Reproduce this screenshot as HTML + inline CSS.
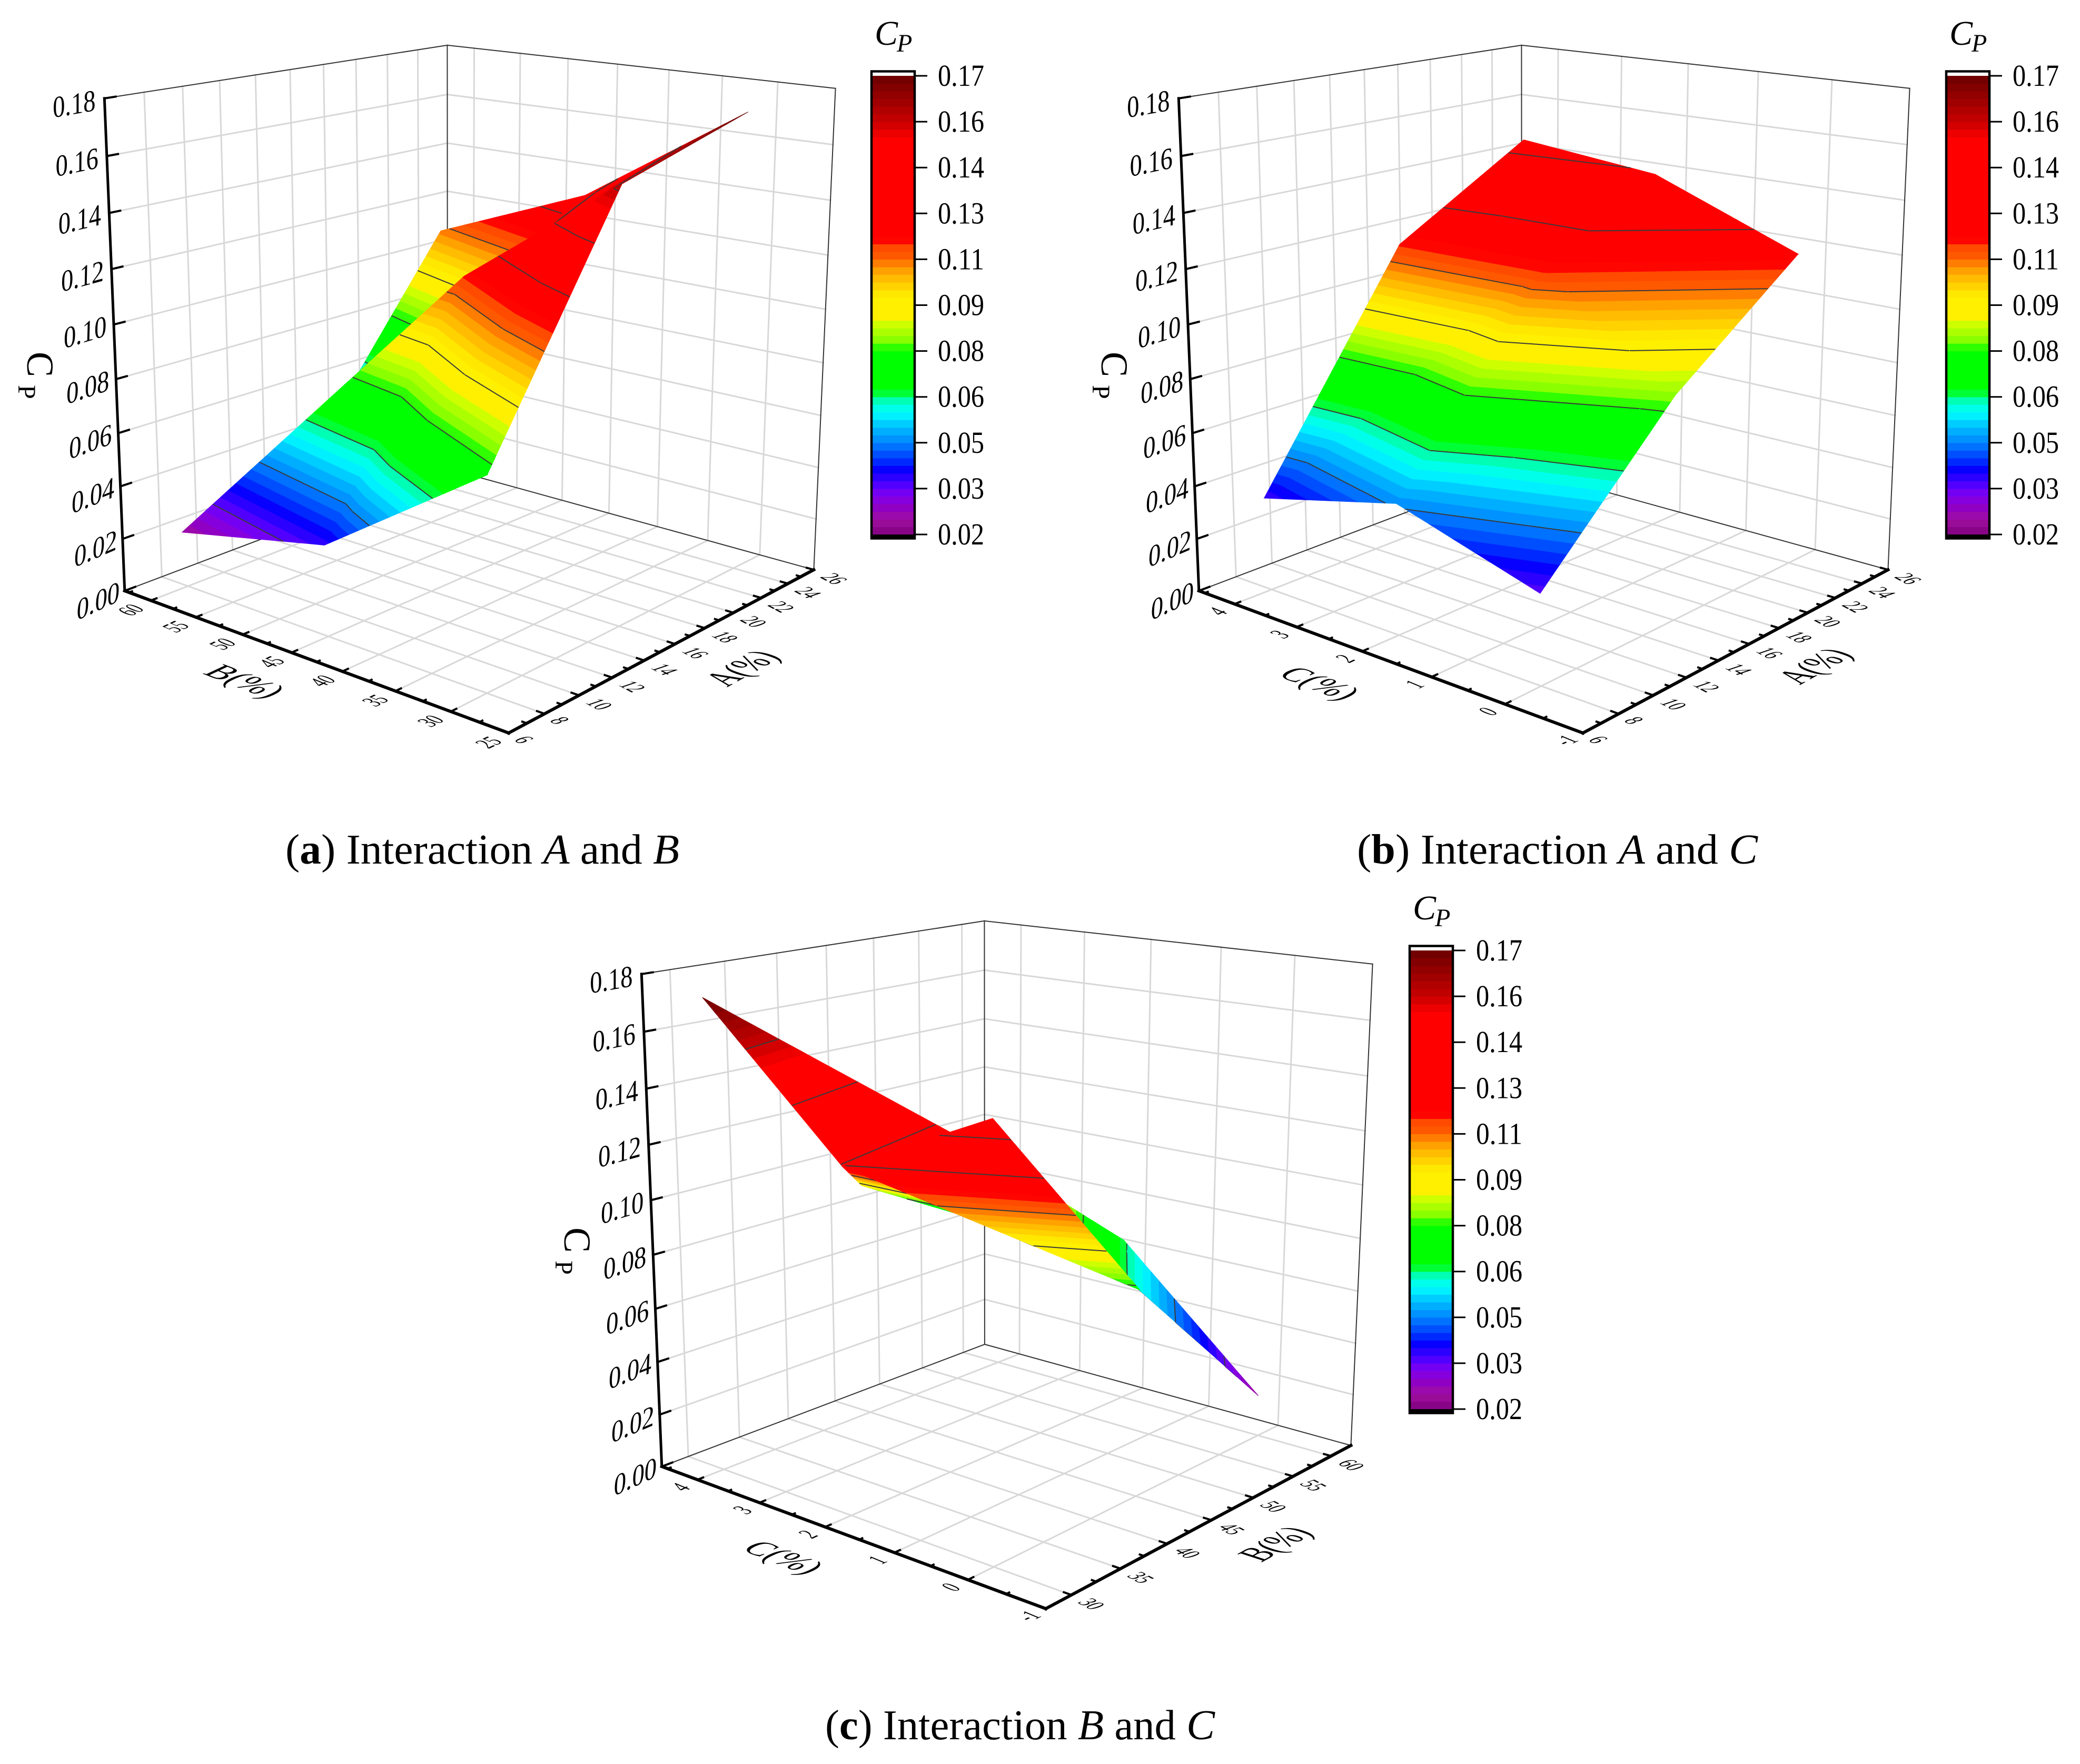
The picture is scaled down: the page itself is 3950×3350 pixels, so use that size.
<!DOCTYPE html>
<html>
<head>
<meta charset="utf-8">
<style>
html,body{margin:0;padding:0;background:#fff}
svg{display:block}
text{font-family:"Liberation Serif",serif;fill:#000}
</style>
</head>
<body>
<svg id="figure" width="3950" height="3350" viewBox="0 0 3950 3350" xmlns="http://www.w3.org/2000/svg">
  <rect x="0" y="0" width="3950" height="3350" fill="#fff"/>
  <g id="panel-a" transform="translate(0,0)"></g>
  <g id="panel-b" transform="translate(2040,0)"></g>
  <g id="panel-c" transform="translate(1020,1663)"></g>
  <g id="colorbar-a" transform="translate(0,0)"></g>
  <g id="colorbar-b" transform="translate(2041,0)"></g>
  <g id="colorbar-c" transform="translate(1022,1661)"></g>
  <text x="542" y="1640" font-size="80" textLength="748" lengthAdjust="spacingAndGlyphs">(<tspan font-weight="bold">a</tspan>) Interaction <tspan font-style="italic">A</tspan> and <tspan font-style="italic">B</tspan></text>
  <text x="2577" y="1640" font-size="80" textLength="761" lengthAdjust="spacingAndGlyphs">(<tspan font-weight="bold">b</tspan>) Interaction <tspan font-style="italic">A</tspan> and <tspan font-style="italic">C</tspan></text>
  <text x="1567" y="3303" font-size="80" textLength="740" lengthAdjust="spacingAndGlyphs">(<tspan font-weight="bold">c</tspan>) Interaction <tspan font-style="italic">B</tspan> and <tspan font-style="italic">C</tspan></text>
</svg>
<script>
// ---- chart data ----
const zTicks = [0, 0.02, 0.04, 0.06, 0.08, 0.10, 0.12, 0.14, 0.16, 0.18];
const aAxisTicks = [6, 8, 10, 12, 14, 16, 18, 20, 22, 24, 26];
const aAxisMinorTicks = [7, 9, 11, 13, 15, 17, 19, 21, 23, 25];
const bAxisTicksA = [25, 30, 35, 40, 45, 50, 55, 60];
const bAxisMinorTicksA = [27.5, 32.5, 37.5, 42.5, 47.5, 52.5, 57.5, 62.5];
const bAxisTicksC = [30, 35, 40, 45, 50, 55, 60];
const bAxisMinorTicksC = [32.5, 37.5, 42.5, 47.5, 52.5, 57.5];
const cAxisTicks = [-1, 0, 1, 2, 3, 4];
const cAxisMinorTicks = [-0.5, 0.5, 1.5, 2.5, 3.5, 4.5];
const colorbarLabels = ["0.17", "0.16", "0.14", "0.13", "0.11", "0.09", "0.08", "0.06", "0.05", "0.03", "0.02"];
const colorbarValues = [0.17, 0.155, 0.14, 0.125, 0.11, 0.095, 0.08, 0.065, 0.05, 0.035, 0.02];
const contourLevels = [0.035, 0.05, 0.065, 0.08, 0.095, 0.11, 0.125, 0.14, 0.155];

// panel (a): A, B, Cp at each mesh node
const panelAValuesA = [7.07, 6.80, 7.23, 15.62, 24.79, 24.03, 23.85, 15.53, 18.04];
const panelAValuesB = [58.49, 43.03, 28.86, 30.01, 31.08, 45.24, 60.22, 44.22, 59.52];
const panelACp = [0.025, 0.0388, 0.0773, 0.157, 0.17, 0.132, 0.1085, 0.1155, 0.062];
const panelATriangles = [[7, 3, 5], [8, 5, 6], [5, 3, 4], [0, 1, 7], [1, 3, 7], [1, 2, 3]];

// panel (b): A, C, Cp at each mesh node
const panelBValuesA = [7.27, 7.21, 23.90, 24.95, 24.33, 16.06, 7.30, 16.41, 15.36];
const panelBValuesC = [3.85, -0.17, -0.01, 4.31, 2.11, 4.09, 1.82, 1.96, -0.10];
const panelBCp = [0.038, 0.0359, 0.119, 0.1437, 0.1392, 0.1155, 0.051, 0.116, 0.0842];
const panelBTriangles = [[5, 4, 3], [7, 2, 4], [5, 7, 4], [0, 7, 5], [7, 8, 2], [6, 8, 7], [0, 6, 7], [6, 1, 8]];

// panel (c): B, C, Cp at each mesh node
const panelCValuesB = [32.0, 42.28, 30.47, 29.15, 59.17, 43.76, 55.82, 45.16, 59.18, 52.28];
const panelCValuesC = [4.45, 2.284, 0.08, 1.909, 1.91, -0.15, -0.42, 4.11, 4.04, 0.88];
const panelCCp = [0.1695, 0.122, 0.148, 0.1245, 0.066, 0.078, 0.025, 0.09, 0.0604, 0.0615];
const panelCTriangles = [[3, 7, 8], [3, 8, 5], [5, 9, 6], [1, 4, 9], [4, 6, 9], [0, 1, 3], [3, 2, 5]];

// colour scale: Cp value and colour
const colorStopValues = [0.02, 0.025, 0.0284, 0.0329, 0.0363, 0.0418, 0.0441, 0.0497, 0.0553, 0.0598, 0.062, 0.0659, 0.0665, 0.081, 0.0816, 0.0855, 0.09, 0.0911, 0.0978, 0.1034, 0.1079, 0.11, 0.1157, 0.1163, 0.1493, 0.155, 0.17];
const colorStopHex = ["#7f007f", "#a010a0", "#9000c0", "#8000f0", "#5000ff", "#0000ff", "#0030ff", "#0080ff", "#00c0ff", "#00ffff", "#00ffe0", "#00ff80", "#00ff00", "#00ff00", "#70ff00", "#a0ff00", "#e0ff00", "#fff000", "#fff000", "#ffc000", "#ff9000", "#ff6000", "#ff4000", "#ff0000", "#ff0000", "#c80000", "#6b0000"];

const Z_MAX = 0.18;
const BAND_START = 0.02;
const BAND_STEP = 0.0025;
const BAND_COUNT = 60;
const NS = "http://www.w3.org/2000/svg";

function create(tag, parent) {
  const el = document.createElementNS(NS, tag);
  parent.appendChild(el);
  return el;
}
function project(s, t, z) {
  const w = 1 + 0.1712 * s + 0.1994 * t - 0.068 * z;
  return [
    (966 - 688.7 * s + 887.6 * t - 58.5 * z) / w,
    (1392 - 77.9 * s - 94.2 * t - 1108 * z) / w
  ];
}
function hexToRgb(h) {
  return [parseInt(h.slice(1, 3), 16), parseInt(h.slice(3, 5), 16), parseInt(h.slice(5, 7), 16)];
}
function colorAt(v) {
  if (v <= colorStopValues[0]) return colorStopHex[0];
  for (let i = 1; i < colorStopValues.length; i++) {
    if (v <= colorStopValues[i]) {
      const f = (v - colorStopValues[i - 1]) / (colorStopValues[i] - colorStopValues[i - 1]);
      const a = hexToRgb(colorStopHex[i - 1]);
      const b = hexToRgb(colorStopHex[i]);
      return "rgb(" + a.map((c, k) => Math.round(c + (b[k] - c) * f)).join(",") + ")";
    }
  }
  return colorStopHex[colorStopHex.length - 1];
}
function lerpNode(a, b, f) {
  return { s: a.s + (b.s - a.s) * f, t: a.t + (b.t - a.t) * f, cp: a.cp + (b.cp - a.cp) * f };
}
function clipPoly(poly, level, keepAbove) {
  const out = [];
  for (let i = 0; i < poly.length; i++) {
    const p = poly[i];
    const q = poly[(i + 1) % poly.length];
    const dp = keepAbove ? p.cp - level : level - p.cp;
    const dq = keepAbove ? q.cp - level : level - q.cp;
    if (dp >= 0) out.push(p);
    if ((dp >= 0) !== (dq >= 0)) out.push(lerpNode(p, q, dp / (dp - dq)));
  }
  return out;
}
function nodeXY(n) {
  return project(n.s, n.t, n.cp / Z_MAX);
}
function addLine(parent, a, b, color, width) {
  const el = create("line", parent);
  el.setAttribute("x1", a[0].toFixed(1));
  el.setAttribute("y1", a[1].toFixed(1));
  el.setAttribute("x2", b[0].toFixed(1));
  el.setAttribute("y2", b[1].toFixed(1));
  el.setAttribute("stroke", color);
  el.setAttribute("stroke-width", width);
  el.setAttribute("stroke-linecap", "square");
  return el;
}

function drawPanel(cfg) {
  const root = document.getElementById(cfg.id);
  const sOf = v => (v - cfg.sMin) / (cfg.sMax - cfg.sMin);
  const tOf = v => (v - cfg.tMin) / (cfg.tMax - cfg.tMin);
  const zOf = v => v / Z_MAX;

  // grid
  const grid = create("g", root);
  
  
  const GRID = "#d8d8d8";
  cfg.sTicks.forEach(v => {
    const s = sOf(v);
    if (s < 0.001 || s > 0.999) return;
    const floorLine = addLine(grid, project(s, 0, 0), project(s, 1, 0), GRID, 3);
    
    
    const wallLine = addLine(grid, project(s, 1, 0), project(s, 1, 1), GRID, 3);
    
    
  });
  cfg.tTicks.forEach(v => {
    const t = tOf(v);
    if (t < 0.001 || t > 0.999) return;
    const floorLine = addLine(grid, project(0, t, 0), project(1, t, 0), GRID, 3);
    
    
    const wallLine = addLine(grid, project(1, t, 0), project(1, t, 1), GRID, 3);
    
    
  });
  zTicks.forEach(v => {
    const z = zOf(v);
    if (z < 0.001 || z > 0.999) return;
    const leftLine = addLine(grid, project(1, 0, z), project(1, 1, z), GRID, 3);
    
    
    const rightLine = addLine(grid, project(1, 1, z), project(0, 1, z), GRID, 3);
    
    
  });

  // thin box edges
  const edges = create("g", root);
  
  
  const edgeList = [
    [[1, 0, 1], [1, 1, 1]], [[1, 1, 1], [0, 1, 1]], [[0, 1, 1], [0, 1, 0]],
    [[1, 1, 0], [1, 1, 1]], [[1, 0, 0], [1, 1, 0]], [[1, 1, 0], [0, 1, 0]]
  ];
  edgeList.forEach(e => {
    const ln = addLine(edges, project.apply(null, e[0]), project.apply(null, e[1]), "#333", 2);
    
    
  });

  // surface
  const surface = create("g", root);
  
  
  const nodes = cfg.sVals.map((v, i) => ({ s: sOf(v), t: tOf(cfg.tVals[i]), cp: cfg.cp[i] }));
  cfg.triangles.forEach(tri => {
    const triNodes = tri.map(i => nodes[i]);
    const triGroup = create("g", surface);
    
    
    for (let k = 0; k < BAND_COUNT; k++) {
      const lo = k === 0 ? 0 : BAND_START + k * BAND_STEP;
      const hi = k === BAND_COUNT - 1 ? 1 : BAND_START + (k + 1) * BAND_STEP;
      let poly = clipPoly(triNodes, lo, true);
      if (poly.length) poly = clipPoly(poly, hi, false);
      if (poly.length < 3) continue;
      const col = colorAt(BAND_START + (k + 0.5) * BAND_STEP);
      const band = create("polygon", triGroup);
      
      
      band.setAttribute("points", poly.map(p => nodeXY(p).map(c => c.toFixed(1)).join(",")).join(" "));
      band.setAttribute("fill", col);
      band.setAttribute("stroke", col);
      band.setAttribute("stroke-width", "1");
    }
    contourLevels.forEach(level => {
      const pts = [];
      for (let i = 0; i < 3; i++) {
        const a = triNodes[i];
        const b = triNodes[(i + 1) % 3];
        if ((a.cp - level) * (b.cp - level) < 0) {
          pts.push(lerpNode(a, b, (level - a.cp) / (b.cp - a.cp)));
        }
      }
      if (pts.length === 2) {
        const seg = addLine(triGroup, nodeXY(pts[0]), nodeXY(pts[1]), "#3a3a3a", 2);
        seg.setAttribute("stroke-linecap", "butt");
        
        
      }
    });
  });

  // front axes
  const axes = create("g", root);
  
  
  const zAxis = addLine(axes, project(1, 0, 0), project(1, 0, 1), "#000", 5);
  
  
  const sAxis = addLine(axes, project(1, 0, 0), project(0, 0, 0), "#000", 6);
  
  
  const tAxis = addLine(axes, project(0, 0, 0), project(0, 1, 0), "#000", 6);
  
  

  zTicks.forEach(v => {
    const z = zOf(v);
    const p = project(1, 0, z);
    const tick = addLine(axes, p, project(1, 0.028, z), "#000", 4);
    
    
    const label = create("text", root);
    
    
    label.setAttribute("font-size", "58");
    const dx = -92 - 6 * z;
    const dy = 57 - 20 * z;
    const slope = -(0.37 - 0.23 * z);
    const shear = -0.06 * (1 - z);
    label.setAttribute("transform", "translate(" + (p[0] + dx).toFixed(1) + "," + (p[1] + dy).toFixed(1) + ") matrix(0.8," + slope.toFixed(3) + "," + shear.toFixed(3) + ",1,0,0)");
    label.textContent = v.toFixed(2);
  });

  cfg.sTicks.forEach(v => {
    const s = sOf(v);
    const p = project(s, 0, 0);
    const tick = addLine(axes, p, project(s, 0.015, 0), "#000", 4);
    
    
    const label = create("text", root);
    
    
    label.setAttribute("font-size", "40");
    label.setAttribute("text-anchor", "middle");
    label.setAttribute("dy", "13");
    label.setAttribute("transform", "translate(" + (p[0] - cfg.sLabelDx).toFixed(1) + "," + (p[1] + cfg.sLabelDy).toFixed(1) + ") matrix(0.7,-0.33,1.05,0.44,0,0)");
    label.textContent = String(v);
  });
  cfg.sMinor.forEach(v => {
    const s = sOf(v);
    const tick = addLine(axes, project(s, 0, 0), project(s, 0.008, 0), "#000", 4);
    
    
  });

  cfg.tTicks.forEach(v => {
    const t = tOf(v);
    const p = project(0, t, 0);
    const tick = addLine(axes, p, project(0.017, t, 0), "#000", 4);
    
    
    const label = create("text", root);
    
    
    label.setAttribute("font-size", "40");
    label.setAttribute("text-anchor", "middle");
    label.setAttribute("dy", "13");
    const off = String(v).length === 1 ? 0.75 : 1;
    label.setAttribute("transform", "translate(" + (p[0] + 38 * off).toFixed(1) + "," + (p[1] + 17 * off).toFixed(1) + ") matrix(0.7,0.37,-1.05,0.35,0,0)");
    label.textContent = String(v);
  });
  cfg.tMinor.forEach(v => {
    const t = tOf(v);
    const tick = addLine(axes, project(0, t, 0), project(0.01, t, 0), "#000", 4);
    
    
  });

  // axis titles
  const sTitle = create("text", root);
  
  
  sTitle.setAttribute("font-size", "56");
  sTitle.setAttribute("text-anchor", "middle");
  sTitle.setAttribute("dy", "18");
  sTitle.setAttribute("transform", "translate(" + cfg.sTitleX + "," + cfg.sTitleY + ") matrix(1.03,0.4,-1.07,0.5,0,0)");
  sTitle.textContent = cfg.sTitle;

  const tTitle = create("text", root);
  
  
  tTitle.setAttribute("font-size", "56");
  tTitle.setAttribute("text-anchor", "middle");
  tTitle.setAttribute("dy", "18");
  tTitle.setAttribute("transform", "translate(" + cfg.tTitleX + "," + cfg.tTitleY + ") matrix(0.82,-0.46,1.28,0.42,0,0)");
  tTitle.textContent = cfg.tTitle;

  const zTitle = create("text", root);
  
  
  zTitle.setAttribute("font-size", "72");
  zTitle.setAttribute("transform", "translate(52,668) rotate(90)");
  zTitle.textContent = "C";
  const zTitleSub = create("text", root);
  
  
  zTitleSub.setAttribute("font-size", "48");
  zTitleSub.setAttribute("transform", "translate(35,731) rotate(90)");
  zTitleSub.textContent = "P";
}

function drawColorbar(id) {
  const root = document.getElementById(id);
  const X0 = 1655, X1 = 1737, YTOP = 144, YBOT = 1015;
  const yOf = v => YTOP + (0.17 - v) / 0.15 * (YBOT - YTOP);
  for (let k = 0; k < BAND_COUNT; k++) {
    const lo = BAND_START + k * BAND_STEP;
    const hi = lo + BAND_STEP;
    const band = create("rect", root);
    
    
    band.setAttribute("x", X0);
    band.setAttribute("y", yOf(hi).toFixed(1));
    band.setAttribute("width", X1 - X0);
    band.setAttribute("height", (yOf(lo) - yOf(hi) + 0.6).toFixed(1));
    band.setAttribute("fill", colorAt(lo + BAND_STEP / 2));
  }
  const foot = create("rect", root);
  
  
  foot.setAttribute("x", X0);
  foot.setAttribute("y", YBOT);
  foot.setAttribute("width", X1 - X0);
  foot.setAttribute("height", 9);
  foot.setAttribute("fill", "#000");
  const frame = create("rect", root);
  
  
  frame.setAttribute("x", X0);
  frame.setAttribute("y", 135.5);
  frame.setAttribute("width", X1 - X0);
  frame.setAttribute("height", 887);
  frame.setAttribute("fill", "none");
  frame.setAttribute("stroke", "#000");
  frame.setAttribute("stroke-width", "4.5");
  colorbarLabels.forEach((txt, i) => {
    const y = yOf(colorbarValues[i]);
    const tick = addLine(root, [X1 + 2, y], [1761, y], "#000", 3);
    tick.setAttribute("stroke-linecap", "butt");
    
    
    const label = create("text", root);
    
    
    label.setAttribute("x", 1781);
    label.setAttribute("y", (y + 19).toFixed(1));
    label.setAttribute("font-size", "58");
    label.setAttribute("textLength", "88");
    label.setAttribute("lengthAdjust", "spacingAndGlyphs");
    label.textContent = txt;
  });
  const title = create("text", root);
  
  
  title.setAttribute("x", 1661);
  title.setAttribute("y", 85);
  title.setAttribute("font-size", "66");
  title.setAttribute("font-style", "italic");
  title.textContent = "C";
  const sub = create("text", root);
  
  
  sub.setAttribute("x", 1703);
  sub.setAttribute("y", 98);
  sub.setAttribute("font-size", "48");
  sub.setAttribute("font-style", "italic");
  sub.textContent = "P";
}

drawPanel({
  id: "panel-a",
  sVals: panelAValuesB, tVals: panelAValuesA, cp: panelACp, triangles: panelATriangles,
  sMin: 25, sMax: 63, tMin: 6, tMax: 26,
  sTicks: bAxisTicksA, sMinor: bAxisMinorTicksA, tTicks: aAxisTicks, tMinor: aAxisMinorTicks,
  sLabelDx: 38, sLabelDy: 18,
  sTitle: "B(%)", sTitleX: 465, sTitleY: 1294,
  tTitle: "A(%)", tTitleX: 1409, tTitleY: 1269
});
drawPanel({
  id: "panel-b",
  sVals: panelBValuesC, tVals: panelBValuesA, cp: panelBCp, triangles: panelBTriangles,
  sMin: -1, sMax: 4.6, tMin: 6, tMax: 26,
  sTicks: cAxisTicks, sMinor: cAxisMinorTicks, tTicks: aAxisTicks, tMinor: aAxisMinorTicks,
  sLabelDx: 32, sLabelDy: 14,
  sTitle: "C(%)", sTitleX: 466, sTitleY: 1298,
  tTitle: "A(%)", tTitleX: 1406, tTitleY: 1265
});
drawPanel({
  id: "panel-c",
  sVals: panelCValuesC, tVals: panelCValuesB, cp: panelCCp, triangles: panelCTriangles,
  sMin: -1, sMax: 4.6, tMin: 27.5, tMax: 62.7,
  sTicks: cAxisTicks, sMinor: cAxisMinorTicks, tTicks: bAxisTicksC, tMinor: bAxisMinorTicksC,
  sLabelDx: 32, sLabelDy: 14,
  sTitle: "C(%)", sTitleX: 468, sTitleY: 1295,
  tTitle: "B(%)", tTitleX: 1402, tTitleY: 1269
});
drawColorbar("colorbar-a");
drawColorbar("colorbar-b");
drawColorbar("colorbar-c");
</script>
</body>
</html>
